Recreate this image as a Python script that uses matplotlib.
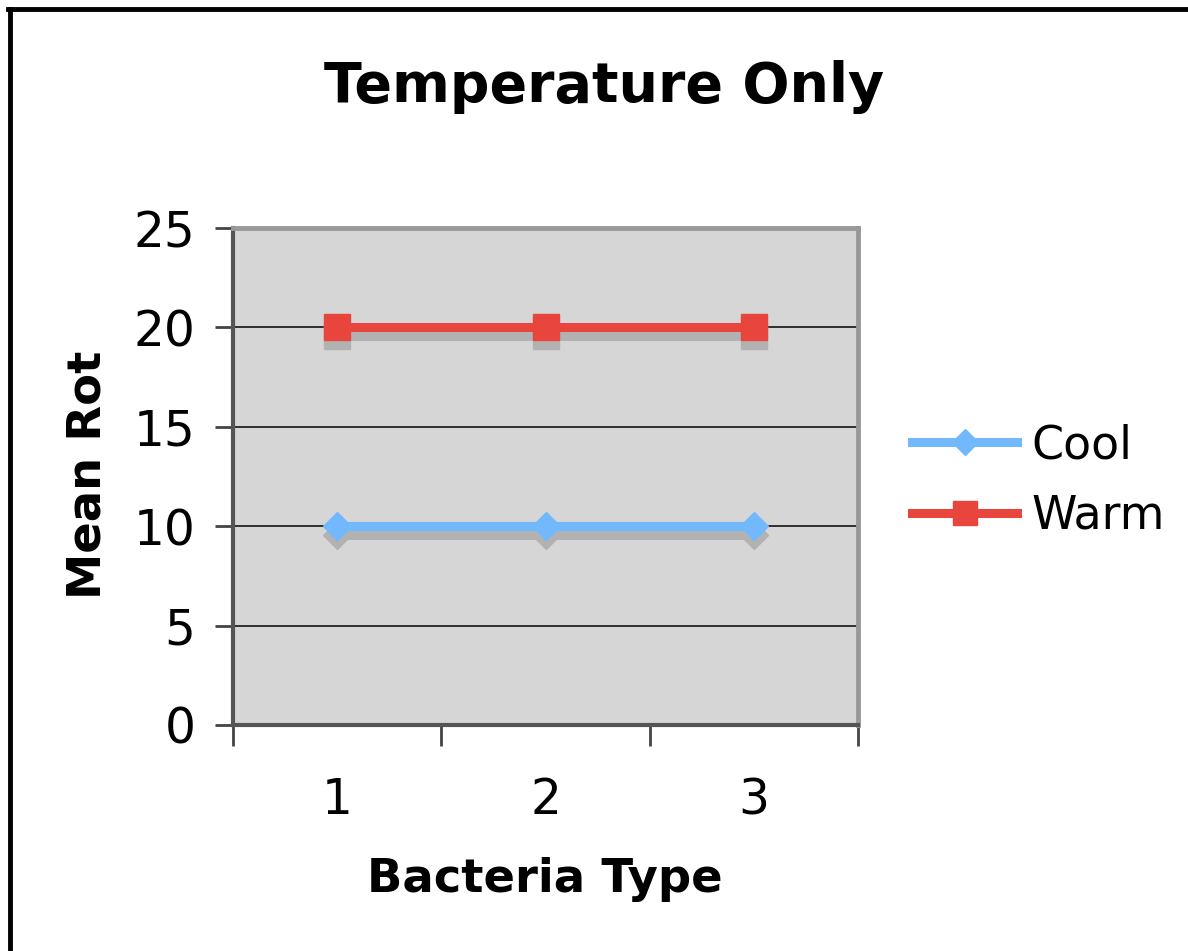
import matplotlib
matplotlib.use("Agg")
import matplotlib.pyplot as plt
import matplotlib.transforms as mtransforms
from matplotlib.lines import Line2D

bacteria_type = [1, 2, 3]
cool = [10, 10, 10]
warm = [20, 20, 20]
y_ticks = [0, 5, 10, 15, 20, 25]

plt.rcParams['font.family'] = ['DejaVu Sans']

fig = plt.figure(figsize=(11.88, 9.51), dpi=100, facecolor="white")
ax = fig.add_axes([233 / 1188, 1 - 725 / 951, 625 / 1188, 497 / 951])
ax.set_facecolor("#d6d6d6")

# drop shadow: same data, shifted down a few pixels
shadow_tr = mtransforms.offset_copy(ax.transData, fig=fig, x=0, y=-9, units="dots")
for vals, mk, ms in [(cool, "D", 14), (warm, "s", 19)]:
    ax.plot(bacteria_type, vals, color="#b2b2b2", lw=6.5, marker=mk, ms=ms,
            mec="#b2b2b2", transform=shadow_tr, zorder=3, solid_capstyle="butt")

ax.plot(bacteria_type, cool, color="#72b8fd", lw=6.5, marker="D", ms=14,
        mec="#72b8fd", label="Cool", zorder=4, solid_capstyle="butt")
ax.plot(bacteria_type, warm, color="#e8453c", lw=6.5, marker="s", ms=19,
        mec="#e8453c", label="Warm", zorder=4, solid_capstyle="butt")

ax.set_xlim(0.5, 3.5)
ax.set_ylim(0, 25)
ax.set_yticks(y_ticks)
ax.set_xticks(bacteria_type)
ax.set_xticks([0.5, 1.5, 2.5, 3.5], minor=True)
ax.tick_params(axis="x", which="major", length=0, pad=37, labelsize=35)
ax.tick_params(axis="x", which="minor", length=15, width=2, color="#444444")
ax.tick_params(axis="y", length=13, width=2, color="#444444", pad=14, labelsize=35)

ax.grid(axis="y", color="#222222", lw=1.3)
ax.set_axisbelow(True)

for s in ["top", "right"]:
    ax.spines[s].set_color("#999999")
    ax.spines[s].set_linewidth(3.5)
for s in ["left", "bottom"]:
    ax.spines[s].set_color("#555555")
    ax.spines[s].set_linewidth(3)

fig.text(604 / 1188, 1 - 102 / 951, "Temperature Only", ha="center", va="baseline",
         fontsize=40, fontweight="bold")
fig.text(545 / 1188, 1 - 892 / 951, "Bacteria Type", ha="center", va="baseline",
         fontsize=33.5, fontweight="bold")
fig.text(88 / 1188, 1 - 475 / 951, "Mean Rot", ha="center", va="center", rotation=90,
         fontsize=33.5, fontweight="bold")

handles = [Line2D([], [], color="#72b8fd", lw=6.5, marker="D", ms=13, mec="#72b8fd"),
           Line2D([], [], color="#e8453c", lw=6.5, marker="s", ms=17, mec="#e8453c")]
fig.legend(handles, ["Cool", "Warm"], loc="center left",
           bbox_to_anchor=(912 / 1188, 1 - 481 / 951), frameon=False, fontsize=33,
           handlelength=2.3, handletextpad=0.3, labelspacing=0.55,
           borderpad=0, borderaxespad=0)

# outer chart border (only top and left edges show)
fig.add_artist(Line2D([10 / 1188, 10 / 1188], [0, 1 - 9 / 951], color="black", lw=3.5,
                      transform=fig.transFigure))
fig.add_artist(Line2D([8 / 1188, 1], [1 - 9 / 951, 1 - 9 / 951], color="black", lw=3.5,
                      transform=fig.transFigure))

fig.savefig("out.png", dpi=100)
